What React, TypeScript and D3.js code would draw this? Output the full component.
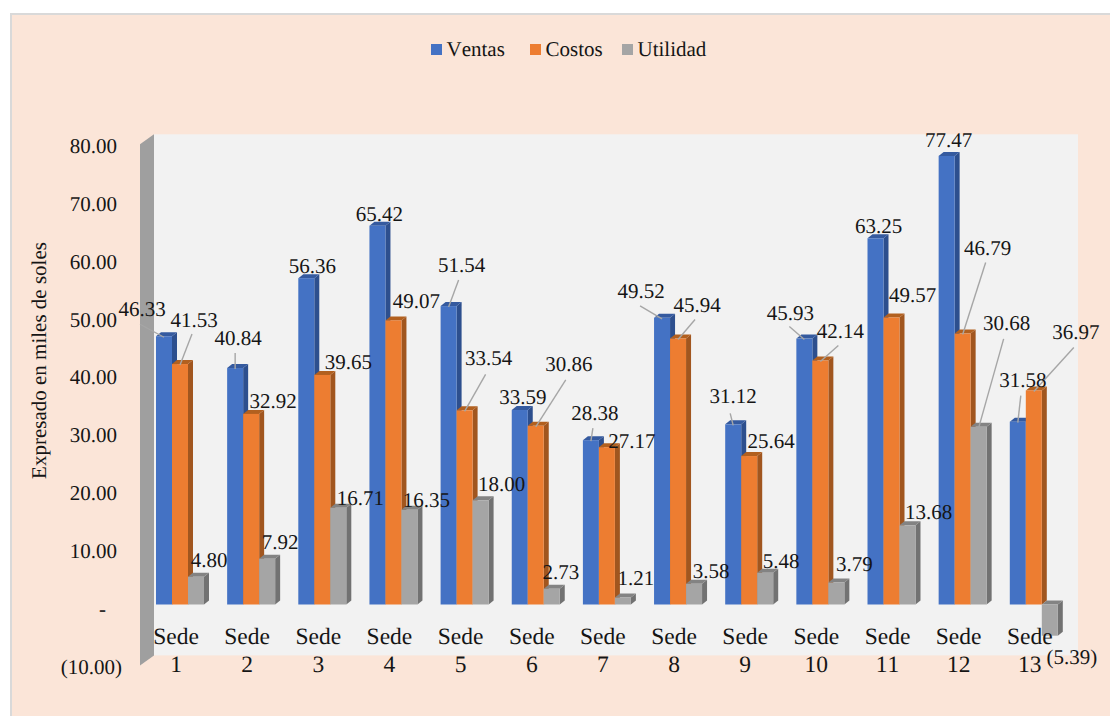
import React from "react";
import * as d3 from "d3";

const sedes = ["1", "2", "3", "4", "5", "6", "7", "8", "9", "10", "11", "12", "13"];
const ventas = [46.33, 40.84, 56.36, 65.42, 51.54, 33.59, 28.38, 49.52, 31.12, 45.93, 63.25, 77.47, 31.58];
const costos = [41.53, 32.92, 39.65, 49.07, 33.54, 30.86, 27.17, 45.94, 25.64, 42.14, 49.57, 46.79, 36.97];
const utilidad = [4.8, 7.92, 16.71, 16.35, 18.0, 2.73, 1.21, 3.58, 5.48, 3.79, 13.68, 30.68, -5.39];
const axisTicks = [-10, 0, 10, 20, 30, 40, 50, 60, 70, 80];

const W = 1110;
const H = 716;
const FONT = "'Liberation Serif', 'Times New Roman', serif";
const FS = 21;
const CATEGORY_FS = 23.5;
const DEPTH_X = 5;
const DEPTH_Y = 4;

// Label placement relative to the top centre of each bar: [dx, dy]
const ventasLabelAt = [[-22, -27], [3, -30], [6, -12], [2, -12], [13, -41], [3, -13], [4, -27], [-21, -27], [0, -28], [-14, -26], [3, -12], [2, -16], [5, -42]];
const costosLabelAt = [[14, -44], [22, -13], [26, -13], [23, -19], [24, -52], [33, -62], [25, -6], [19, -34], [22, -15], [20, -30], [21, -22], [25, -86], [42, -58]];
const utilidadLabelAt = [[13, -17], [13, -17], [22, -10], [17, -10], [21, -16], [9, -17], [13, -19], [17, -13], [16, -12], [18, -19], [21, -13], [28, -104], [22, 21]];

// Leader line start relative to the bar's top centre; null where the label sits beside its bar
const ventasLeader = [[-24, -12], [0, -15], null, null, [10, -26], null, [2, -12], [-22, -12], [-3, -11], [-15, -12], null, null, [3, -26]];
const costosLeader = [[12, -30], null, null, null, [21, -36], [30, -46], null, [17, -19], null, [18, -15], null, [23, -71], [40, -43]];
const utilidadLeader = [null, null, null, null, null, null, null, null, null, null, null, [25, -88], null];

const seriesList = [
  { name: "Ventas", values: ventas, labelAt: ventasLabelAt, leader: ventasLeader, front: "#4472c4", side: "#2d4f8e", top: "#355a9f" },
  { name: "Costos", values: costos, labelAt: costosLabelAt, leader: costosLeader, front: "#ed7d31", side: "#a1561f", top: "#b2601f" },
  { name: "Utilidad", values: utilidad, labelAt: utilidadLabelAt, leader: utilidadLeader, front: "#a5a5a5", side: "#727272", top: "#838383" },
];

const legendSlots = [431, 530, 622];

const fmt = (v: number) => (v < 0 ? `(${Math.abs(v).toFixed(2)})` : v.toFixed(2));
const tickText = (v: number) => (v === 0 ? "-" : fmt(v));
const poly = (pts: number[][]) => pts.map((p) => p.join(",")).join(" ");

export default function App() {
  const y = d3.scaleLinear().domain([0, 80]).range([604.5, 141.3]);
  const group = d3.scalePoint<string>().domain(sedes).range([156, 1009.8]);
  const inner = d3.scaleBand<string>().domain(seriesList.map((s) => s.name)).range([0, 48]);
  const bw = inner.bandwidth();

  const wallX0 = 140;
  const wallX1 = 154;
  const wallRight = 1078;

  return (
    <svg
      width={W}
      height={H}
      viewBox={`0 0 ${W} ${H}`}
      style={{ position: "fixed", left: 0, top: 0, display: "block", background: "#fff", textRendering: "geometricPrecision", fontKerning: "none" }}
      fontFamily={FONT}
      fontSize={FS}
      fill="#151515"
    >
      {/* chart area */}
      <rect x={10} y={13} width={W - 10} height={H - 13} fill="#d9d9d9" />
      <rect x={12} y={15} width={W - 12} height={H - 15} fill="#fbe5d8" />

      {/* 3D walls */}
      <rect x={wallX1} y={y(80) - 7} width={wallRight - wallX1} height={y(-10) - y(80)} fill="#f2f2f2" />
      <polygon
        fill="#9f9f9f"
        points={poly([
          [wallX0, y(80) + 3],
          [wallX1, y(80) - 7],
          [wallX1, y(-10) - 7],
          [wallX0, y(-10) + 3],
        ])}
      />

      {/* legend */}
      {seriesList.map((s, i) => (
        <g key={s.name}>
          <rect x={legendSlots[i]} y={44} width={11} height={11} fill={s.front} />
          <text x={legendSlots[i] + 15.5} y={56}>{s.name}</text>
        </g>
      ))}

      {/* y axis */}
      {axisTicks.map((t) => (
        <text key={t} x={t < 0 ? 122 : t === 0 ? 106 : 117} y={y(t) + 11.5} textAnchor="end">
          {tickText(t)}
        </text>
      ))}
      <text transform="translate(46,360.5) rotate(-90)" textAnchor="middle">
        Expresado en miles de soles
      </text>

      {/* bars */}
      {sedes.map((sede, i) => (
        <g key={sede}>
          {seriesList.map((s) => {
            const x0 = group(sede)! + inner(s.name)!;
            const x1 = x0 + bw;
            const yA = Math.min(y(s.values[i]), y(0));
            const yB = Math.max(y(s.values[i]), y(0));
            return (
              <g key={s.name}>
                <polygon
                  fill={s.side}
                  points={poly([
                    [x1, yA],
                    [x1 + DEPTH_X, yA - DEPTH_Y],
                    [x1 + DEPTH_X, yB - DEPTH_Y],
                    [x1, yB],
                  ])}
                />
                <polygon
                  fill={s.top}
                  points={poly([
                    [x0, yA],
                    [x0 + DEPTH_X, yA - DEPTH_Y],
                    [x1 + DEPTH_X, yA - DEPTH_Y],
                    [x1, yA],
                  ])}
                />
                <rect x={x0} y={yA} width={bw} height={yB - yA} fill={s.front} />
              </g>
            );
          })}
        </g>
      ))}

      {/* category labels */}
      {sedes.map((sede) => {
        const cx = group(sede)! + 20;
        return (
          <g key={sede} textAnchor="middle" fontSize={CATEGORY_FS}>
            <text x={cx} y={643.5}>Sede</text>
            <text x={cx} y={672}>{sede}</text>
          </g>
        );
      })}

      {/* leader lines */}
      {seriesList.map((s) =>
        sedes.map((sede, i) => {
          const start = s.leader[i];
          if (!start) return null;
          const cx = group(sede)! + inner(s.name)! + bw / 2;
          const top = y(s.values[i]);
          return (
            <line
              key={s.name + sede}
              x1={cx + start[0]}
              y1={top + start[1]}
              x2={cx}
              y2={top + 1}
              stroke="#a6a6a6"
              strokeWidth={1.4}
            />
          );
        })
      )}

      {/* value labels */}
      {seriesList.map((s) =>
        sedes.map((sede, i) => {
          const cx = group(sede)! + inner(s.name)! + bw / 2;
          const top = y(s.values[i]);
          const [dx, dy] = s.labelAt[i];
          return (
            <text key={s.name + sede} x={cx + dx} y={top + dy + 7} textAnchor="middle">
              {fmt(s.values[i])}
            </text>
          );
        })
      )}
    </svg>
  );
}
